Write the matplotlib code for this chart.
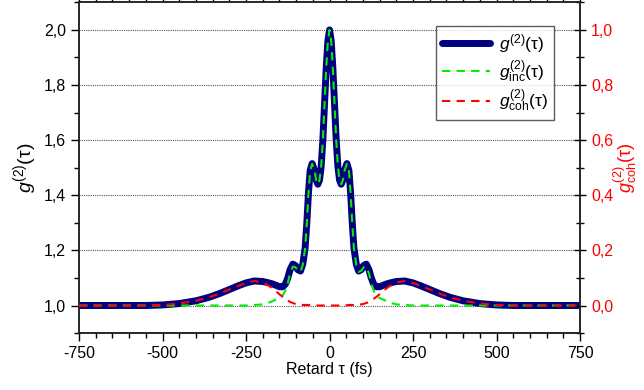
import numpy as np
import matplotlib
matplotlib.use('Agg')
import matplotlib.pyplot as plt
from matplotlib.ticker import MultipleLocator, FuncFormatter

plt.rcParams['font.family'] = ['Liberation Sans', 'DejaVu Sans']
plt.rcParams['mathtext.fontset'] = 'custom'
plt.rcParams['mathtext.rm'] = 'Liberation Sans'
plt.rcParams['mathtext.it'] = 'Liberation Sans:italic'
plt.rcParams['mathtext.bf'] = 'Liberation Sans:bold'
plt.rcParams['axes.unicode_minus'] = False

# %% Data (delay in fs)
tau = [-750, -700, -650, -600, -550, -500, -450, -400, -360, -330, -300, -270, -250,
       -225, -200, -185, -170, -160, -150, -140, -132, -125, -118, -110, -102, -95,
       -87, -80, -73, -68, -63, -58, -52, -45, -40, -35, -30, -25, -20, -15, -10, -5,
       0,
       5, 10, 15, 20, 25, 30, 35, 40, 45, 52, 58, 63, 68, 73, 80, 87,
       95, 102, 110, 118, 125, 132, 140, 150, 160, 170, 185, 200, 225,
       250, 270, 300, 330, 360, 400, 450, 500, 550, 600, 650, 700, 750]

g2_total = [1.000, 1.000, 1.000, 1.000, 1.000, 1.002, 1.007, 1.017, 1.030, 1.043, 1.058, 1.073, 1.082,
            1.089, 1.087, 1.083, 1.078, 1.073, 1.068, 1.068, 1.078, 1.100, 1.130, 1.150, 1.145, 1.130,
            1.125, 1.150, 1.210, 1.300, 1.410, 1.490, 1.515, 1.490, 1.455, 1.440, 1.455, 1.505, 1.600, 1.730, 1.860, 1.960,
            2.000,
            1.960, 1.860, 1.730, 1.600, 1.505, 1.455, 1.440, 1.455, 1.490, 1.515, 1.490, 1.410, 1.300, 1.210, 1.150, 1.125,
            1.130, 1.145, 1.150, 1.130, 1.100, 1.078, 1.068, 1.068, 1.073, 1.078, 1.083, 1.087, 1.089,
            1.082, 1.073, 1.058, 1.043, 1.030, 1.017, 1.007, 1.002, 1.000, 1.000, 1.000, 1.000, 1.000]

g2_inc = [1.000, 1.000, 1.000, 1.000, 1.000, 1.000, 1.000, 1.000, 1.000, 1.000, 1.000, 1.000, 1.000,
          1.002, 1.004, 1.009, 1.016, 1.022, 1.027, 1.037, 1.054, 1.082, 1.117, 1.141, 1.139, 1.126,
          1.122, 1.148, 1.208, 1.298, 1.408, 1.488, 1.514, 1.490, 1.455, 1.440, 1.455, 1.505, 1.600, 1.730, 1.860, 1.960,
          2.000,
          1.960, 1.860, 1.730, 1.600, 1.505, 1.455, 1.440, 1.455, 1.490, 1.514, 1.488, 1.408, 1.298, 1.208, 1.148, 1.122,
          1.126, 1.139, 1.141, 1.117, 1.082, 1.054, 1.037, 1.027, 1.022, 1.016, 1.009, 1.004, 1.002,
          1.000, 1.000, 1.000, 1.000, 1.000, 1.000, 1.000, 1.000, 1.000, 1.000, 1.000, 1.000, 1.000]

g2_coh = [0.000, 0.000, 0.000, 0.000, 0.000, 0.002, 0.007, 0.017, 0.030, 0.043, 0.058, 0.073, 0.082,
          0.089, 0.083, 0.074, 0.062, 0.051, 0.041, 0.031, 0.024, 0.018, 0.013, 0.009, 0.006, 0.004,
          0.003, 0.002, 0.002, 0.002, 0.002, 0.002, 0.001, 0.000, 0.000, 0.000, 0.000, 0.000, 0.000, 0.000, 0.000, 0.000,
          0.000,
          0.000, 0.000, 0.000, 0.000, 0.000, 0.000, 0.000, 0.000, 0.000, 0.001, 0.002, 0.002, 0.002, 0.002, 0.002, 0.003,
          0.004, 0.006, 0.009, 0.013, 0.018, 0.024, 0.031, 0.041, 0.051, 0.062, 0.074, 0.083, 0.089,
          0.082, 0.073, 0.058, 0.043, 0.030, 0.017, 0.007, 0.002, 0.000, 0.000, 0.000, 0.000, 0.000]

x_ticks = [-750, -500, -250, 0, 250, 500, 750]
y_left_ticks = [1.0, 1.2, 1.4, 1.6, 1.8, 2.0]
y_right_ticks = [0.0, 0.2, 0.4, 0.6, 0.8, 1.0]


def comma(v, pos):
    return f'{v:.1f}'.replace('.', ',')


# %% Plot
fig = plt.figure(figsize=(6.44, 3.90), dpi=100)
ax = fig.add_axes([0.1227, 0.146, 0.778, 0.848])
ax2 = ax.twinx()

for y in y_left_ticks:
    ax.axhline(y, color='#555555', lw=0.8, ls=(0, (1, 1)), zorder=0)

l1, = ax.plot(tau, g2_total, color='#000080', lw=5, solid_capstyle='round',
              label=r'$g^{(2)}$(τ)', zorder=2)
l2, = ax.plot(tau, g2_inc, color='#00ee00', lw=1.5, ls=(0, (4, 3)),
              label=r'$g^{(2)}_{\rm inc}$(τ)', zorder=3)
l3, = ax2.plot(tau, g2_coh, color='#ff0000', lw=1.5, ls=(0, (4, 3)),
               label=r'$g^{(2)}_{\rm coh}$(τ)', zorder=3)

ax.set_xlim(-750, 750)
ax.set_ylim(0.9, 2.1)
ax2.set_ylim(-0.1, 1.1)

ax.set_xticks(x_ticks)
ax.xaxis.set_minor_locator(MultipleLocator(50))
ax.set_yticks(y_left_ticks)
ax.yaxis.set_minor_locator(MultipleLocator(0.1))
ax.yaxis.set_major_formatter(FuncFormatter(comma))
ax2.set_yticks(y_right_ticks)
ax2.yaxis.set_minor_locator(MultipleLocator(0.1))
ax2.yaxis.set_major_formatter(FuncFormatter(comma))

ax.tick_params(axis='x', which='major', direction='out', length=6, width=1, labelsize=11.5,
               top=True, pad=3)
ax.tick_params(axis='x', which='minor', direction='out', length=3.5, width=1, top=True)
ax.tick_params(axis='y', which='major', direction='out', length=6, width=1, labelsize=11.5)
ax.tick_params(axis='y', which='minor', direction='out', length=3.5, width=1)
ax2.tick_params(axis='y', which='major', direction='inout', length=9, width=1,
                labelsize=11.5, labelcolor='red')
ax2.tick_params(axis='y', which='minor', direction='inout', length=6, width=1)

for s in list(ax.spines.values()) + list(ax2.spines.values()):
    s.set_linewidth(1.1)
    s.set_color('#222222')

ax.set_xlabel('Retard τ (fs)', fontsize=11.5, labelpad=1)
ax.set_ylabel(r'$g^{(2)}$(τ)', fontsize=14, labelpad=3)
ax2.set_ylabel(r'$g^{(2)}_{\rm coh}$(τ)', fontsize=13, color='red', labelpad=-1)

leg = ax.legend(handles=[l1, l2, l3], loc='upper right', bbox_to_anchor=(0.966, 0.955),
                fontsize=12.5, frameon=True, fancybox=False, handlelength=2.8,
                borderpad=0.35, labelspacing=0.2, handletextpad=0.5)
leg.get_frame().set_edgecolor('#333333')
leg.get_frame().set_linewidth(1.0)

fig.savefig('out.png', dpi=100)
